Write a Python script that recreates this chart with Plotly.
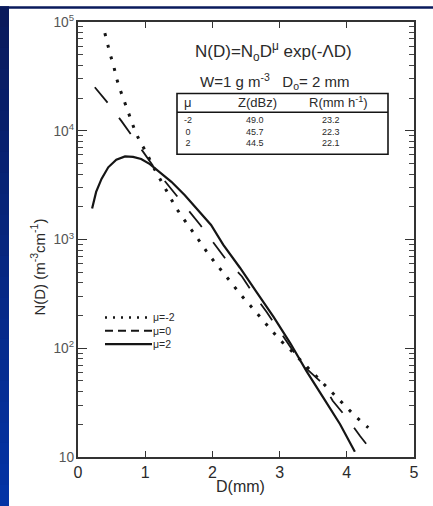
import plotly.graph_objects as go

# ---------------- data ----------------
D_mu_m2 = [0.40, 0.44, 0.48, 0.53, 0.57, 0.62, 0.68, 0.73, 0.79, 0.85, 0.93, 1.02,
           1.10, 1.18, 1.27, 1.36, 1.46, 1.57, 1.68, 1.79, 1.91, 2.03, 2.16, 2.29,
           2.42, 2.56, 2.71, 2.85, 3.00, 3.16, 3.60, 3.80, 3.96, 4.13, 4.32]
N_mu_m2 = [78900, 61700, 50100, 39800, 30900, 24500, 19500, 15800, 12500, 9910, 7760, 6310,
           4900, 3980, 3140, 2510, 1950, 1550, 1230, 1000, 782, 621, 497, 393,
           312, 248, 193, 151, 120, 96.8, 51.3, 37.8, 30.1, 23.6, 18.6]

D_mu_0 = [0.25, 0.45, 0.65, 0.82, 1.17, 1.82, 2.01, 2.21, 2.44, 2.61, 2.81,
          3.35, 3.65, 3.79, 4.00, 4.20, 4.39]
N_mu_0 = [25100, 17800, 12200, 8630, 4270, 1360, 955, 646, 457, 316, 214,
          69.2, 46.8, 32.9, 22.9, 15.5, 11.0]

D_mu_2 = [0.21, 0.27, 0.35, 0.45, 0.57, 0.70, 0.82, 0.94, 1.07, 1.22, 1.39, 1.59,
          1.79, 1.98, 2.16, 2.41, 2.66, 2.91, 3.16, 3.40, 3.65, 3.90, 4.12]
N_mu_2 = [1930, 2740, 3610, 4610, 5410, 5810, 5750, 5500, 4940, 4170, 3390, 2550,
          1860, 1360, 897, 550, 327, 194, 111, 61.7, 35.2, 20.0, 11.2]

legend_labels = ["μ=-2", "μ=0", "μ=2"]
table_header = ["μ", "Z(dBz)", "R(mm h<sup>-1</sup>)"]
table_mu = ["-2", "0", "2"]
table_Z = ["49.0", "45.7", "44.5"]
table_R = ["23.2", "22.3", "22.1"]

# ---------------- geometry helpers (pixel -> paper) ----------------
L, R_, T, B = 78, 19, 16, 49
W, H = 433, 506
PW, PH = W - L - R_, H - T - B


def px(x):
    return (x - L) / PW


def py(y):
    return 1 - (y - T) / PH


INK = "#151515"
TXT = "#2a2a2a"
FONT = "Liberation Sans, Arial, sans-serif"

fig = go.Figure()
fig.add_trace(go.Scatter(x=D_mu_m2, y=N_mu_m2, mode="lines", name=legend_labels[0],
                         line=dict(color=INK, width=3, dash="3px,9px"), showlegend=False))
fig.add_trace(go.Scatter(x=D_mu_0, y=N_mu_0, mode="lines", name=legend_labels[1],
                         line=dict(color=INK, width=1.8, dash="20px,19px"), showlegend=False))
fig.add_trace(go.Scatter(x=D_mu_2, y=N_mu_2, mode="lines", name=legend_labels[2],
                         line=dict(color=INK, width=2.2), showlegend=False))

shapes = []
# blue left strip with vertical gradient + thin top band
nseg = 24
for i in range(nseg):
    t = i / (nseg - 1)
    r = int(10 + (4 - 10) * t)
    g = int(26 + (52 - 26) * t)
    b = int(92 + (165 - 92) * t)
    y0 = i * H / nseg
    y1 = (i + 1) * H / nseg + 1
    shapes.append(dict(type="rect", xref="paper", yref="paper", layer="below",
                       x0=px(0), x1=px(9), y0=py(y1), y1=py(y0),
                       fillcolor=f"rgb({r},{g},{b})", line=dict(width=0)))
shapes.append(dict(type="rect", xref="paper", yref="paper", layer="below",
                   x0=px(0), x1=px(W), y0=py(2.5), y1=py(0),
                   fillcolor="rgb(10,26,92)", line=dict(width=0)))

# table box
shapes.append(dict(type="rect", xref="paper", yref="paper",
                   x0=px(177), x1=px(388), y0=py(150), y1=py(88.5),
                   line=dict(color=INK, width=1.6)))
shapes.append(dict(type="line", xref="paper", yref="paper",
                   x0=px(177), x1=px(388), y0=py(107.5), y1=py(107.5),
                   line=dict(color=INK, width=1.6)))

# manual legend samples
leg_y = [315.5, 329, 342.5]
leg_dash = ["2px,6px", "8px,5px", "solid"]
leg_w = [2.6, 1.8, 2.2]
for yy, dsh, lw in zip(leg_y, leg_dash, leg_w):
    shapes.append(dict(type="line", xref="paper", yref="paper",
                       x0=px(105), x1=px(152), y0=py(yy), y1=py(yy),
                       line=dict(color=INK, width=lw, dash=dsh)))

ann = []


def add_text(text, x, y, size, xanchor="center", angle=0, color=TXT, align="center"):
    ann.append(dict(text=text, x=px(x), y=py(y), xref="paper", yref="paper",
                    xanchor=xanchor, yanchor="middle", showarrow=False, align=align,
                    borderpad=0,
                    textangle=angle, font=dict(size=size, color=color, family=FONT)))


add_text("N(D)=N<sub>o</sub>D<sup>μ</sup> exp(-ΛD)", 273, 46, 17)
add_text("W=1 g m<sup>-3</sup>   D<sub>o</sub>= 2 mm", 274, 76, 15)
for txt, xx in zip(table_header, [188, 257, 338]):
    add_text(txt, xx, 97.5, 13)
for col, xx in zip([table_mu, table_Z, table_R], [188, 255, 331]):
    add_text("<br>".join(col), xx, 127.5, 9)
add_text("<br>".join(legend_labels), 152, 329, 10.5, xanchor="left", align="left")
add_text("D(mm)", 240, 487, 16)
add_text("N(D) (m<sup>-3</sup>cm<sup>-1</sup>)", 38, 265, 15, angle=-90)

fig.update_layout(
    width=W, height=H,
    margin=dict(l=L, r=R_, t=T, b=B),
    paper_bgcolor="white", plot_bgcolor="white",
    shapes=shapes, annotations=ann,
    font=dict(family=FONT, color=TXT),
)
fig.update_xaxes(range=[0, 5], dtick=1, showgrid=False, zeroline=False,
                 showline=True, linecolor="#333", linewidth=1.5, mirror="ticks",
                 ticks="inside", ticklen=6, tickwidth=1.3, tickcolor="#333",
                 tickfont=dict(size=16, color=TXT, family=FONT))
fig.update_yaxes(type="log", range=[1, 5], dtick=1, exponentformat="power",
                 showgrid=False, zeroline=False,
                 showline=True, linecolor="#333", linewidth=1.5, mirror="ticks",
                 ticks="inside", ticklen=9, tickwidth=1.3, tickcolor="#333",
                 minor=dict(ticks="inside", ticklen=5, tickwidth=1, tickcolor="#444",
                            dtick="D1", showgrid=False),
                 tickfont=dict(size=11, color="#555", family=FONT))

fig.write_html("out.html",
               config={"displayModeBar": False},
               post_script="document.body.style.margin='0';"
                           "document.body.style.padding='0';"
                           "document.body.style.overflow='hidden';")
